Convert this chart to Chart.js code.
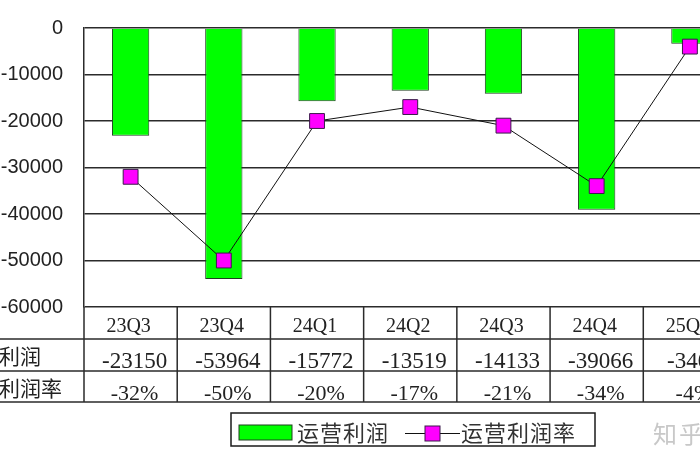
<!DOCTYPE html>
<html>
<head>
<meta charset="utf-8">
<script src="https://cdn.jsdelivr.net/npm/chart.js@4.4.7/dist/chart.umd.min.js"></script>
<style>
  html, body {
    margin: 0;
    padding: 0;
    background: #fff;
    overflow: hidden;
    width: 700px;
    height: 470px;
  }
  /* the original picture is a crop: the table label column and 25Q1 run off the edges */
  .chart-wrap {
    position: absolute;
    left: -52px;
    top: 0;
    width: 800px;
    height: 470px;
  }
</style>
</head>
<body>
<div class="chart-wrap">
  <canvas id="chart"></canvas>
</div>

<script>
  // data (25Q1 is cut off at the right edge, value estimated)
  const categories = ['23Q3', '23Q4', '24Q1', '24Q2', '24Q3', '24Q4', '25Q1']
  const profit = [-23150, -53964, -15772, -13519, -14133, -39066, -3400]
  const profitRate = [-32, -50, -20, -17, -21, -34, -4]
  const yTicks = [0, -10000, -20000, -30000, -40000, -50000, -60000]
  const seriesNames = ['运营利润', '运营利润率']

  const green = '#00ff00'
  const magenta = '#ff00ff'
  const cjkFont = '"Noto Sans CJK SC", "Noto Sans", sans-serif'
  const numFont = '"Liberation Serif", "DejaVu Serif", serif'

  /*
   * Draw the data table under the plot and the boxed legend
   */
  const tablePlugin = {
    id: 'dataTable',
    afterDraw(chart) {
      const ctx = chart.ctx
      const area = chart.chartArea
      const xs = chart.scales.x
      const colW = xs.width / categories.length
      const rowTop = [area.bottom, area.bottom + 32, area.bottom + 64]
      const tableBottom = area.bottom + 95

      ctx.save()
      ctx.strokeStyle = '#2b2b2b'
      ctx.lineWidth = 1.5

      // horizontal lines
      ctx.beginPath()
      for (let i = 1; i < rowTop.length; i++) {
        ctx.moveTo(0, rowTop[i])
        ctx.lineTo(area.right, rowTop[i])
      }
      ctx.moveTo(0, tableBottom)
      ctx.lineTo(area.right, tableBottom)

      // vertical lines
      for (let i = 0; i <= categories.length; i++) {
        const x = area.left + i * colW
        ctx.moveTo(x, area.bottom)
        ctx.lineTo(x, tableBottom)
      }
      ctx.stroke()

      // header row
      ctx.fillStyle = '#222'
      ctx.textAlign = 'center'
      ctx.textBaseline = 'alphabetic'
      ctx.font = '20px ' + numFont
      categories.forEach((c, i) => {
        ctx.fillText(c, xs.getPixelForValue(i) - 2, rowTop[0] + 25)
      })

      // values
      ctx.font = '23px ' + numFont
      profit.forEach((v, i) => {
        ctx.fillText(String(v), xs.getPixelForValue(i) + 4, rowTop[1] + 29)
      })
      ctx.font = '22px ' + numFont
      profitRate.forEach((v, i) => {
        ctx.fillText(v + '%', xs.getPixelForValue(i) + 4, rowTop[2] + 29)
      })

      // row labels
      ctx.textAlign = 'left'
      ctx.textBaseline = 'middle'
      ctx.font = '21px ' + cjkFont
      ctx.fillText(seriesNames[0], 9, rowTop[1] + 17)
      ctx.fillText(seriesNames[1], 9, rowTop[2] + 17)

      // legend box
      const lx = 283, ly = 413, lw = 364, lh = 33
      ctx.fillStyle = '#fff'
      ctx.fillRect(lx, ly, lw, lh)
      ctx.strokeStyle = '#1a1a1a'
      ctx.strokeRect(lx, ly, lw, lh)

      ctx.fillStyle = green
      ctx.fillRect(lx + 8, ly + 12, 53, 15)
      ctx.lineWidth = 1
      ctx.strokeStyle = '#1f3f1f'
      ctx.strokeRect(lx + 8, ly + 12, 53, 15)

      ctx.fillStyle = '#333'
      ctx.font = '22px ' + cjkFont
      ctx.letterSpacing = '1px'
      ctx.fillText(seriesNames[0], lx + 66, ly + 20)

      ctx.strokeStyle = '#111'
      ctx.lineWidth = 1.2
      ctx.beginPath()
      ctx.moveTo(lx + 174, ly + 20.5)
      ctx.lineTo(lx + 229, ly + 20.5)
      ctx.stroke()
      ctx.fillStyle = magenta
      ctx.fillRect(lx + 194, ly + 13, 15, 15)
      ctx.strokeStyle = '#3a1a4a'
      ctx.lineWidth = 1
      ctx.strokeRect(lx + 194, ly + 13, 15, 15)

      ctx.fillStyle = '#333'
      ctx.fillText(seriesNames[1], lx + 230, ly + 20)

      // watermark
      ctx.letterSpacing = '2px'
      ctx.fillStyle = '#c8c8c8'
      ctx.font = '24px ' + cjkFont
      ctx.fillText('知乎', 705, ly + 21)
      ctx.restore()
    }
  }

  const data = {
    labels: categories,
    datasets: [
      {
        type: 'line',
        label: seriesNames[1],
        data: profitRate,
        yAxisID: 'y2',
        order: 1,
        borderColor: '#111',
        borderWidth: 1,
        tension: 0,
        pointStyle: 'rect',
        pointRadius: 10.5,
        pointBackgroundColor: magenta,
        pointBorderColor: '#3a1a4a',
        pointBorderWidth: 1
      },
      {
        type: 'bar',
        label: seriesNames[0],
        data: profit,
        yAxisID: 'y',
        order: 2,
        backgroundColor: green,
        borderColor: '#1f3f1f',
        borderWidth: 1,
        categoryPercentage: 1,
        barPercentage: 0.4
      }
    ]
  }

  const config = {
    data: data,
    options: {
      responsive: true,
      maintainAspectRatio: false,
      animation: false,
      layout: {
        padding: { left: 0, top: 28, right: 6, bottom: 163 }
      },
      plugins: {
        legend: { display: false },
        tooltip: { enabled: false }
      },
      scales: {
        x: {
          display: false,
          offset: true
        },
        y: {
          min: -60000,
          max: 0,
          afterBuildTicks(scale) {
            scale.ticks = yTicks.map((v) => ({ value: v }))
          },
          afterFit(scale) {
            // fixed axis width; the tick padding should not push the plot down
            scale.width = 136
            scale.paddingTop = 0
            scale.paddingBottom = 0
          },
          ticks: {
            color: '#222',
            padding: 21,
            font: { family: '"Liberation Sans", Arial, sans-serif', size: 20 },
            callback: (v) => String(v)
          },
          grid: {
            color: '#2b2b2b',
            lineWidth: 1.5,
            drawTicks: false
          },
          border: { display: true, color: '#2b2b2b', width: 1.5 }
        },
        y2: {
          display: false,
          min: -60,
          max: 0
        }
      }
    },
    plugins: [tablePlugin]
  }

  const myChart = new Chart(document.getElementById('chart'), config)
</script>
</body>
</html>
